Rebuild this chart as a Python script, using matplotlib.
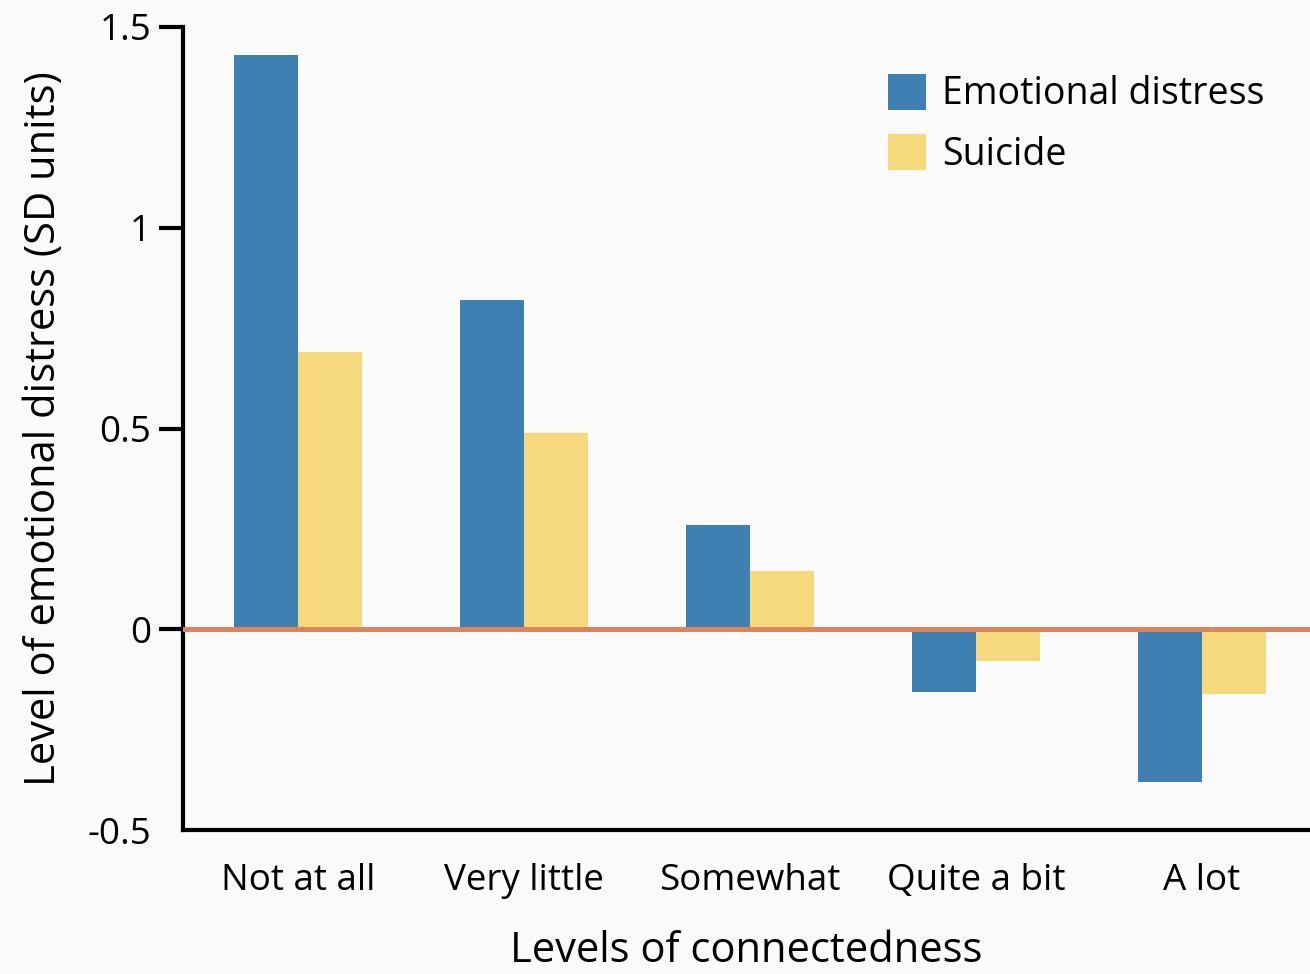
import numpy as np
import matplotlib.pyplot as plt

plt.rcParams['font.family'] = ['Open Sans', 'DejaVu Sans']

categories = ['Not at all', 'Very little', 'Somewhat', 'Quite a bit', 'A lot']
emotional = [1.43, 0.82, 0.26, -0.155, -0.38]
suicide = [0.69, 0.49, 0.145, -0.08, -0.16]
yticks = [-0.5, 0, 0.5, 1, 1.5]
ytick_labels = ['-0.5', '0', '0.5', '1', '1.5']

blue = '#3d80b1'
yellow = '#f7d97d'
orange = '#dd845a'
bg = '#fafafa'

fig = plt.figure(figsize=(13.1, 9.74), dpi=100, facecolor=bg)
ax = fig.add_axes([0.1397, 0.1478, 0.8603, 0.8245], facecolor=bg)

x = np.arange(len(categories))
w = 0.283
ax.bar(x - w / 2, emotional, w, color=blue, label='Emotional distress', zorder=2)
ax.bar(x + w / 2, suicide, w, color=yellow, label='Suicide', zorder=2)
ax.axhline(0, color=orange, lw=3.6, zorder=3)

ax.set_xlim(-0.509, 4.478)
ax.set_ylim(-0.5, 1.5)
ax.set_xticks(x)
ax.set_xticklabels(categories)
ax.set_yticks(yticks)
ax.set_yticklabels(ytick_labels)

for s in ['top', 'right']:
    ax.spines[s].set_visible(False)
for s in ['left', 'bottom']:
    ax.spines[s].set_linewidth(3)
    ax.spines[s].set_color('black')

ax.tick_params(axis='y', length=17, width=3, labelsize=26.5, pad=6)
ax.tick_params(axis='x', length=0, labelsize=26.5, pad=24)
ax.yaxis.get_major_ticks()[0].tick1line.set_visible(False)

ax.set_ylabel('Level of emotional distress (SD units)', fontsize=30, labelpad=16)
ax.set_xlabel('Levels of connectedness', fontsize=30, labelpad=22)

ax.legend(loc='upper left', bbox_to_anchor=(0.6256, 0.942), frameon=False,
          borderpad=0, borderaxespad=0,
          fontsize=27, handlelength=1.0, handleheight=1.1,
          handletextpad=0.45, labelspacing=0.55)

fig.savefig('out.png', dpi=100, facecolor=bg)
